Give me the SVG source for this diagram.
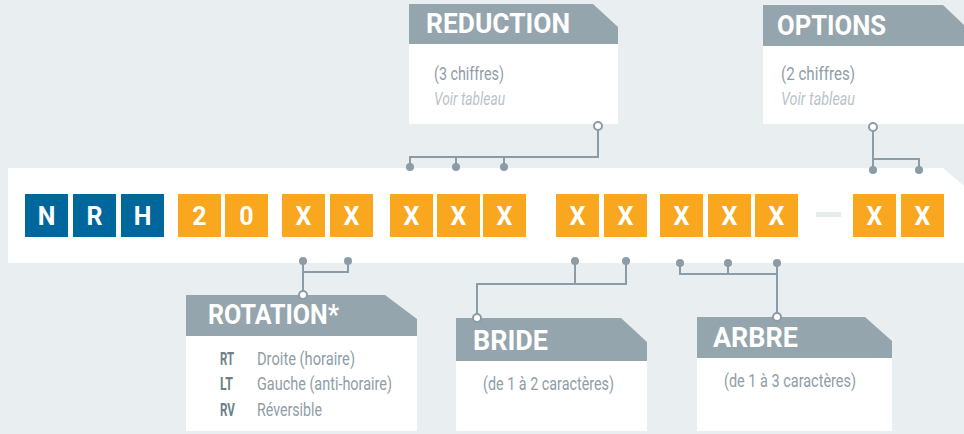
<svg xmlns="http://www.w3.org/2000/svg" width="964" height="434" viewBox="0 0 964 434">
<style>
.bg{fill:#e9eef1}
.hdr{fill:#95a5ae}
.body{fill:#ffffff}
.ht{font-family:Roboto,"Liberation Sans",sans-serif;font-weight:bold;font-size:27px;fill:#ffffff}
.tx{font-family:Roboto,"Liberation Sans",sans-serif;font-size:19px;fill:#8f9da7}
.it{font-family:Roboto,"Liberation Sans",sans-serif;font-size:18px;font-style:italic;fill:#b9c3ca}
.cd{font-family:Roboto,"Liberation Sans",sans-serif;font-size:19px;font-weight:bold;fill:#6f7f8a}
.bl{fill:#00679d}
.or{fill:#f8a71e}
.bt{font-family:Roboto,"Liberation Sans",sans-serif;font-weight:bold;font-size:25px;fill:#ffffff;text-anchor:middle}
.ln{fill:none;stroke:#8c9ca6;stroke-width:2}
.dot{fill:#8c9ca6}
.oc{fill:#ffffff;stroke:#8c9ca6;stroke-width:2}
</style>
<rect class="bg" x="0" y="0" width="964" height="434"/>
<path d="M8,168 H943 L964,186 V263 H8 Z" fill="#ffffff"/>

<g id="code">
<rect class="bl" x="25" y="194" width="43" height="43"/><text class="bt" x="46.5" y="224.5">N</text>
<rect class="bl" x="73" y="194" width="43" height="43"/><text class="bt" x="94.5" y="224.5">R</text>
<rect class="bl" x="121" y="194" width="43" height="43"/><text class="bt" x="142.5" y="224.5">H</text>
<rect class="or" x="178" y="194" width="43" height="43"/><text class="bt" x="199.5" y="224.5">2</text>
<rect class="or" x="225" y="194" width="43" height="43"/><text class="bt" x="246.5" y="224.5">0</text>
<rect class="or" x="282" y="194" width="43" height="43"/><text class="bt" x="303.5" y="224.5">X</text>
<rect class="or" x="330" y="194" width="43" height="43"/><text class="bt" x="351.5" y="224.5">X</text>
<rect class="or" x="390" y="194" width="43" height="43"/><text class="bt" x="411.5" y="224.5">X</text>
<rect class="or" x="437" y="194" width="43" height="43"/><text class="bt" x="458.5" y="224.5">X</text>
<rect class="or" x="483" y="194" width="43" height="43"/><text class="bt" x="504.5" y="224.5">X</text>
<rect class="or" x="556" y="194" width="43" height="43"/><text class="bt" x="577.5" y="224.5">X</text>
<rect class="or" x="604" y="194" width="43" height="43"/><text class="bt" x="625.5" y="224.5">X</text>
<rect class="or" x="660" y="194" width="43" height="43"/><text class="bt" x="681.5" y="224.5">X</text>
<rect class="or" x="708" y="194" width="43" height="43"/><text class="bt" x="729.5" y="224.5">X</text>
<rect class="or" x="755" y="194" width="43" height="43"/><text class="bt" x="776.5" y="224.5">X</text>
<rect x="816" y="212" width="25" height="5" fill="#e6ebee"/>
<rect class="or" x="853" y="194" width="43" height="43"/><text class="bt" x="874.5" y="224.5">X</text>
<rect class="or" x="901" y="194" width="43" height="43"/><text class="bt" x="922.5" y="224.5">X</text>
</g>

<g id="reduction">
<path class="hdr" d="M409,4 H593 L618,27 V44 H409 Z"/>
<rect class="body" x="409" y="44" width="209" height="80"/>
<text class="ht" x="426" y="33" textLength="144" lengthAdjust="spacingAndGlyphs">REDUCTION</text>
<text class="tx" x="434" y="80" textLength="70" lengthAdjust="spacingAndGlyphs">(3 chiffres)</text>
<text class="it" x="434" y="105" textLength="71" lengthAdjust="spacingAndGlyphs">Voir tableau</text>
</g>

<g id="options">
<path class="hdr" d="M763,5 H943 L964,25 V46 H763 Z"/>
<rect class="body" x="763" y="46" width="201" height="78"/>
<text class="ht" x="777" y="35" textLength="109" lengthAdjust="spacingAndGlyphs">OPTIONS</text>
<text class="tx" x="781" y="80" textLength="74" lengthAdjust="spacingAndGlyphs">(2 chiffres)</text>
<text class="it" x="781" y="105" textLength="74" lengthAdjust="spacingAndGlyphs">Voir tableau</text>
</g>

<g id="rotation">
<path class="hdr" d="M186,295 H385 L417,319 V336 H186 Z"/>
<rect class="body" x="186" y="336" width="231" height="95"/>
<text class="ht" x="208" y="324" textLength="131" lengthAdjust="spacingAndGlyphs">ROTATION*</text>
<text class="cd" x="220" y="365" textLength="14" lengthAdjust="spacingAndGlyphs">RT</text>
<text class="tx" x="257" y="365" textLength="98" lengthAdjust="spacingAndGlyphs">Droite (horaire)</text>
<text class="cd" x="220" y="390" textLength="13" lengthAdjust="spacingAndGlyphs">LT</text>
<text class="tx" x="257" y="390" textLength="135" lengthAdjust="spacingAndGlyphs">Gauche (anti-horaire)</text>
<text class="cd" x="220" y="416" textLength="15" lengthAdjust="spacingAndGlyphs">RV</text>
<text class="tx" x="257" y="416" textLength="65" lengthAdjust="spacingAndGlyphs">Réversible</text>
</g>

<g id="bride">
<path class="hdr" d="M456,318 H621 L647,342 V361 H456 Z"/>
<rect class="body" x="456" y="361" width="191" height="70"/>
<text class="ht" x="473" y="350" textLength="75" lengthAdjust="spacingAndGlyphs">BRIDE</text>
<text class="tx" x="483" y="390" textLength="131" lengthAdjust="spacingAndGlyphs">(de 1 à 2 caractères)</text>
</g>

<g id="arbre">
<path class="hdr" d="M697,317 H865 L892,341 V358 H697 Z"/>
<rect class="body" x="697" y="358" width="195" height="73"/>
<text class="ht" x="713" y="347" textLength="85" lengthAdjust="spacingAndGlyphs">ARBRE</text>
<text class="tx" x="724" y="387" textLength="132" lengthAdjust="spacingAndGlyphs">(de 1 à 3 caractères)</text>
</g>

<g id="connectors">
<path class="ln" d="M410,167 V157 H598 V127 M456,167 V157 M504,167 V157"/>
<circle class="dot" cx="410" cy="167" r="4"/><circle class="dot" cx="456" cy="167" r="4"/><circle class="dot" cx="504" cy="167" r="4"/>
<circle class="oc" cx="598" cy="126" r="4"/>

<path class="ln" d="M873,127 V170 M873,159 H919 V170"/>
<circle class="dot" cx="873" cy="170" r="4"/><circle class="dot" cx="919" cy="170" r="4"/>
<circle class="oc" cx="873" cy="127" r="4"/>

<path class="ln" d="M303,261 V294 M303,272 H348 V261"/>
<circle class="dot" cx="303" cy="261" r="4"/><circle class="dot" cx="348" cy="261" r="4"/>
<circle class="oc" cx="303" cy="295" r="4"/>

<path class="ln" d="M575,261 V284 M626,261 V284 H477 V317"/>
<circle class="dot" cx="575" cy="261" r="4"/><circle class="dot" cx="626" cy="261" r="4"/>
<circle class="oc" cx="477" cy="318" r="4"/>

<path class="ln" d="M680,263 V274 H777 M728,263 V274 M777,263 V316"/>
<circle class="dot" cx="680" cy="263" r="4"/><circle class="dot" cx="728" cy="263" r="4"/><circle class="dot" cx="777" cy="263" r="4"/>
<circle class="oc" cx="777" cy="317" r="4"/>
</g>
</svg>
